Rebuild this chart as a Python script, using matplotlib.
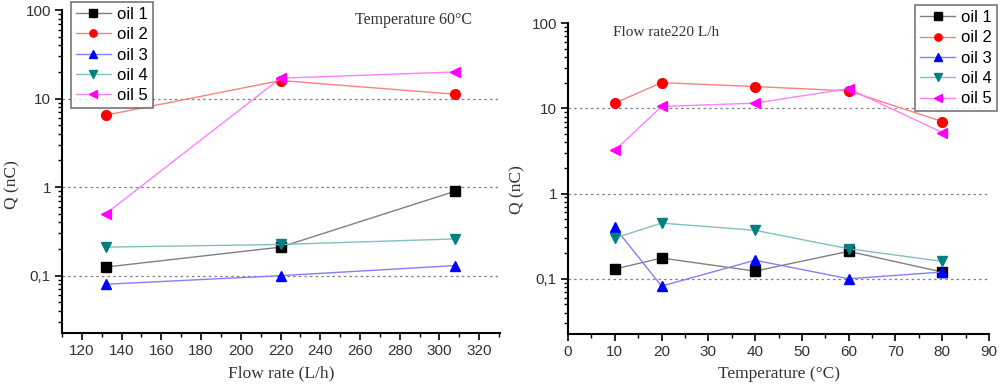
import matplotlib
matplotlib.use("Agg")
import matplotlib.pyplot as plt
from matplotlib.ticker import FixedLocator, FixedFormatter, LogLocator, MultipleLocator, NullFormatter

# ---- data ----
flow_rate = [132, 220, 308]
flow_oil1 = [0.125, 0.21, 0.9]
flow_oil2 = [6.5, 16, 11.2]
flow_oil3 = [0.08, 0.1, 0.13]
flow_oil4 = [0.21, 0.225, 0.26]
flow_oil5 = [0.5, 17, 20]

temperature = [10, 20, 40, 60, 80]
temp_oil1 = [0.13, 0.175, 0.123, 0.21, 0.12]
temp_oil2 = [11.5, 20, 18, 16, 7]
temp_oil3 = [0.4, 0.082, 0.165, 0.1, 0.12]
temp_oil4 = [0.3, 0.45, 0.37, 0.225, 0.16]
temp_oil5 = [3.2, 10.5, 11.5, 17, 5.2]

series_names = ["oil 1", "oil 2", "oil 3", "oil 4", "oil 5"]
ytick_vals = [0.1, 1, 10, 100]
ytick_labels = ["0,1", "1", "10", "100"]

# ---- styles ----
marker_colors = ["#000000", "#ff0000", "#0000ff", "#008080", "#ff00ff"]
line_colors = ["#808080", "#ff8080", "#8080ff", "#80c0c0", "#ff80ff"]
markers = ["s", "o", "^", "v", "<"]

sans = "Liberation Sans"
serif = "Liberation Serif"

fig = plt.figure(figsize=(10, 3.87), dpi=100)
ax1 = fig.add_axes([0.062, 0.1395, 0.438, 0.8345])
ax2 = fig.add_axes([0.568, 0.137, 0.421, 0.8034])


def draw(ax, x, ys):
    for y, lc, mc, m, name in zip(ys, line_colors, marker_colors, markers, series_names):
        ax.plot(x, y, color=lc, lw=1.0, marker=m, markersize=7,
                markerfacecolor=mc, markeredgecolor=mc, label=name, zorder=3)
    ax.set_yscale("log")
    ax.set_ylim(0.0225, 100)
    ax.yaxis.set_major_locator(FixedLocator(ytick_vals))
    ax.yaxis.set_major_formatter(FixedFormatter(ytick_labels))
    ax.yaxis.set_minor_locator(LogLocator(base=10, subs=range(2, 10), numticks=20))
    ax.yaxis.set_minor_formatter(NullFormatter())
    for v in [0.1, 1, 10]:
        ax.axhline(v, color="#808080", lw=0.9, ls=(0, (2, 2.5)), zorder=1)
    ax.spines["top"].set_visible(False)
    ax.spines["right"].set_visible(False)
    for s in ["left", "bottom"]:
        ax.spines[s].set_linewidth(1.5)
    ax.tick_params(axis="both", which="major", direction="out", length=5, width=1.2,
                   labelsize=11, colors="#000000", pad=3)
    ax.tick_params(axis="both", which="minor", direction="out", length=3, width=1.0)
    ax.set_ylabel("Q (nC)", fontfamily=serif, fontsize=12.5, color="#333333")


def style_ticklabels(ax):
    for lab in ax.get_xticklabels() + ax.get_yticklabels():
        lab.set_fontfamily(sans)
        lab.set_color("#333333")


legend_kw = dict(prop={"family": sans, "size": 12}, frameon=True, fancybox=False,
                 edgecolor="#555555", borderpad=0.3, handlelength=2.1, handletextpad=0.35,
                 labelspacing=0.32, borderaxespad=0.0, markerscale=0.75)

draw(ax1, flow_rate, [flow_oil1, flow_oil2, flow_oil3, flow_oil4, flow_oil5])
ax1.set_xlim(110, 330.5)
ax1.set_xticks(range(120, 321, 20))
ax1.xaxis.set_minor_locator(MultipleLocator(10))
style_ticklabels(ax1)
ax1.yaxis.set_label_coords(-0.096, 0.46)
ax1.set_xlabel("Flow rate (L/h)", fontfamily=serif, fontsize=12.5, color="#333333", labelpad=5)
ax1.text(0.67, 0.97, "Temperature 60°C", transform=ax1.transAxes, fontfamily=serif,
         fontsize=11.5, color="#333333", va="center", ha="left")
leg1 = ax1.legend(loc="upper left", bbox_to_anchor=(0.0205, 1.025), **legend_kw)
leg1.get_frame().set_linewidth(1.2)

draw(ax2, temperature, [temp_oil1, temp_oil2, temp_oil3, temp_oil4, temp_oil5])
ax2.set_xlim(0, 90)
ax2.set_xticks(range(0, 91, 10))
ax2.xaxis.set_minor_locator(MultipleLocator(5))
style_ticklabels(ax2)
ax2.yaxis.set_label_coords(-0.102, 0.463)
ax2.set_xlabel("Temperature (°C)", fontfamily=serif, fontsize=12.5, color="#333333", labelpad=5)
ax2.text(0.107, 0.97, "Flow rate220 L/h", transform=ax2.transAxes, fontfamily=serif,
         fontsize=11, color="#333333", va="center", ha="left")
leg2 = ax2.legend(loc="upper right", bbox_to_anchor=(1.019, 1.058), **legend_kw)
leg2.get_frame().set_linewidth(1.2)

fig.savefig("out.png", dpi=100)
